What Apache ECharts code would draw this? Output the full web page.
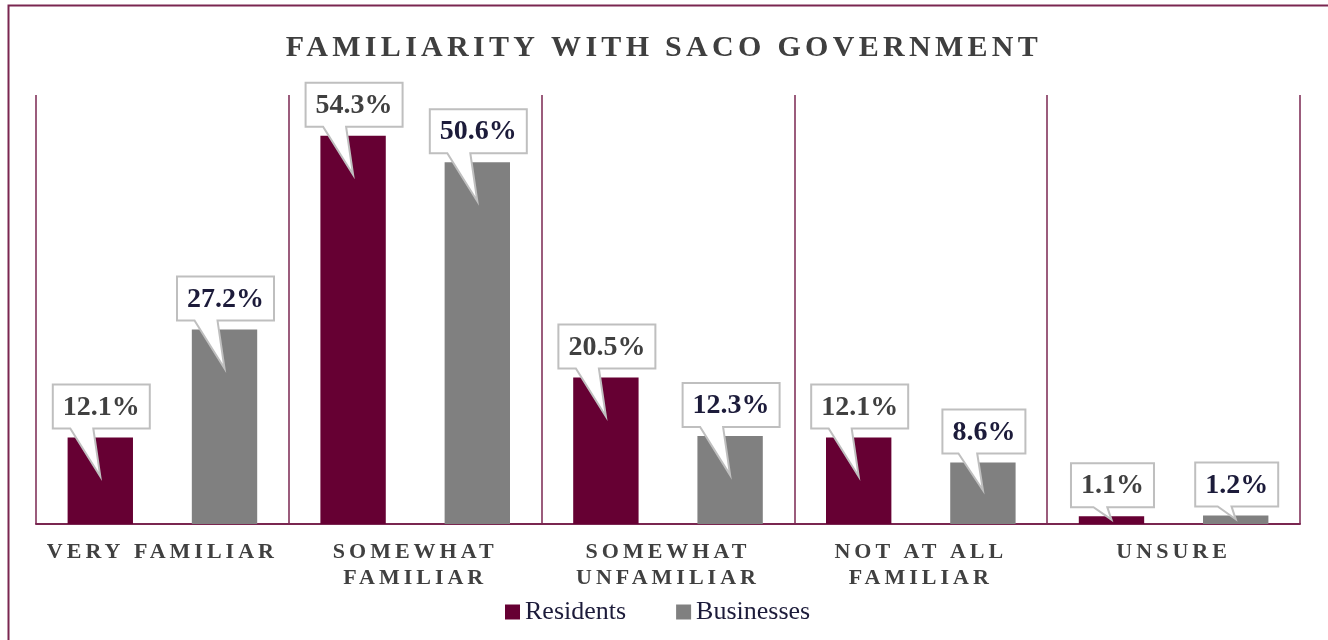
<!DOCTYPE html>
<html>
<head>
<meta charset="utf-8">
<script src="https://cdn.jsdelivr.net/npm/echarts@6/dist/echarts.min.js"></script>
<style>html,body{margin:0;padding:0;background:#fff}#c{width:1328px;height:640px}</style>
</head>
<body>
<div id="c"></div>
<script>
const categories = ['VERY FAMILIAR', 'SOMEWHAT FAMILIAR', 'SOMEWHAT UNFAMILIAR', 'NOT AT ALL FAMILIAR', 'UNSURE'];
const residents = [12.1, 54.3, 20.5, 12.1, 1.1];
const businesses = [27.2, 50.6, 12.3, 8.6, 1.2];
const seriesNames = ['Residents', 'Businesses'];
const titleText = 'FAMILIARITY WITH SACO GOVERNMENT';

// letter spacing for the spaced-caps texts (title and axis labels)
const origFill = CanvasRenderingContext2D.prototype.fillText;
CanvasRenderingContext2D.prototype.fillText = function () {
  const f = this.font || '';
  let ls = '0px';
  if (/bold/.test(f) && /30px/.test(f)) ls = '4.3px';
  else if (/bold/.test(f) && /22px/.test(f)) ls = '4px';
  try { this.letterSpacing = ls; } catch (e) {}
  return origFill.apply(this, arguments);
};

const FONT = '"Liberation Serif", "Times New Roman", serif';
const measureCtx = document.createElement('canvas').getContext('2d');
measureCtx.font = 'bold 28px "Liberation Serif"';

const CAT_GAP = 0.25, BAR_GAP = 0.9;
const colors = ['#660033', '#808080'];
const labelColors = ['#404040', '#1C1B3A'];

function calloutRenderer(sIdx) {
  return function (params, api) {
    const cat = api.value(0), val = api.value(1);
    const top = api.coord([cat, val]);
    const base = api.coord([cat, 0]);
    const W = api.size([1, 0])[0];
    const b = W * (1 - CAT_GAP) / (2 + BAR_GAP);
    const off = (b + BAR_GAP * b) / 2;
    const cx = top[0] + (sIdx === 0 ? -off : off);
    const ty = top[1], by = base[1];
    const h = by - ty;
    const text = val.toFixed(1) + '%';
    const tw = measureCtx.measureText(text).width;
    const bw = tw + 20, bh = 44;
    const bx = cx + 1 - bw / 2;
    const bBottom = ty - 9;
    const bTop = bBottom - bh;
    const tipY = ty + Math.min(39, h * 0.45);
    const tailLen = tipY - bBottom;
    const k = Math.max(0.6, Math.min(1, tailLen / 45));
    const pts = [
      [bx, bTop], [bx + bw, bTop], [bx + bw, bBottom],
      [cx - 7 * k, bBottom], [cx, tipY], [cx - 30 * k, bBottom],
      [bx, bBottom]
    ];
    return {
      type: 'group',
      children: [
        { type: 'polygon', shape: { points: pts }, style: { fill: '#ffffff', stroke: '#BFBFBF', lineWidth: 2 } },
        { type: 'text', x: bx + bw / 2, y: bTop + bh / 2 + 1,
          style: { text: text, font: 'bold 28px ' + FONT, fill: labelColors[sIdx], align: 'center', verticalAlign: 'middle' } }
      ]
    };
  };
}

const chart = echarts.init(document.getElementById('c'), null, { renderer: 'canvas' });
chart.setOption({
  animation: false,
  backgroundColor: '#ffffff',
  title: {
    text: titleText, left: 'center', top: 28,
    textStyle: { fontFamily: FONT, fontWeight: 'bold', fontSize: 30, color: '#3F3F3F' }
  },
  graphic: [{
    type: 'rect', left: 6, top: 3, shape: { width: 1400, height: 700 },
    style: { fill: 'none', stroke: '#7A2650', lineWidth: 2 }, z: 100
  }],
  legend: {
    data: seriesNames, bottom: 10, left: 500, itemWidth: 15, itemHeight: 15, itemGap: 50,
    icon: 'rect',
    textStyle: { fontFamily: FONT, fontSize: 26, color: '#1C1B3A' }
  },
  grid: { left: 36, right: 28, top: 95, bottom: 116 },
  xAxis: {
    type: 'category', data: categories,
    axisLine: { lineStyle: { color: '#7A2650', width: 2 } },
    axisTick: { show: false },
    splitLine: { show: true, interval: 0, lineStyle: { color: '#7A2650', width: 1.5 } },
    axisLabel: {
      interval: 0, margin: 15, fontFamily: FONT, fontWeight: 'bold', fontSize: 22,
      lineHeight: 26, color: '#404040',
      formatter: function (v) { return v.length > 14 ? v.replace(/ (\S+)$/, '\n$1') : v; }
    }
  },
  yAxis: { type: 'value', min: 0, max: 60, show: false },
  series: [
    { name: seriesNames[0], type: 'bar', data: residents, barGap: (BAR_GAP * 100) + '%', barCategoryGap: (CAT_GAP * 100) + '%', itemStyle: { color: colors[0] } },
    { name: seriesNames[1], type: 'bar', data: businesses, itemStyle: { color: colors[1] } },
    { name: 'c0', type: 'custom', z: 5, renderItem: calloutRenderer(0), data: residents.map((v, i) => [i, v]) },
    { name: 'c1', type: 'custom', z: 5, renderItem: calloutRenderer(1), data: businesses.map((v, i) => [i, v]) }
  ]
});
</script>
</body>
</html>
